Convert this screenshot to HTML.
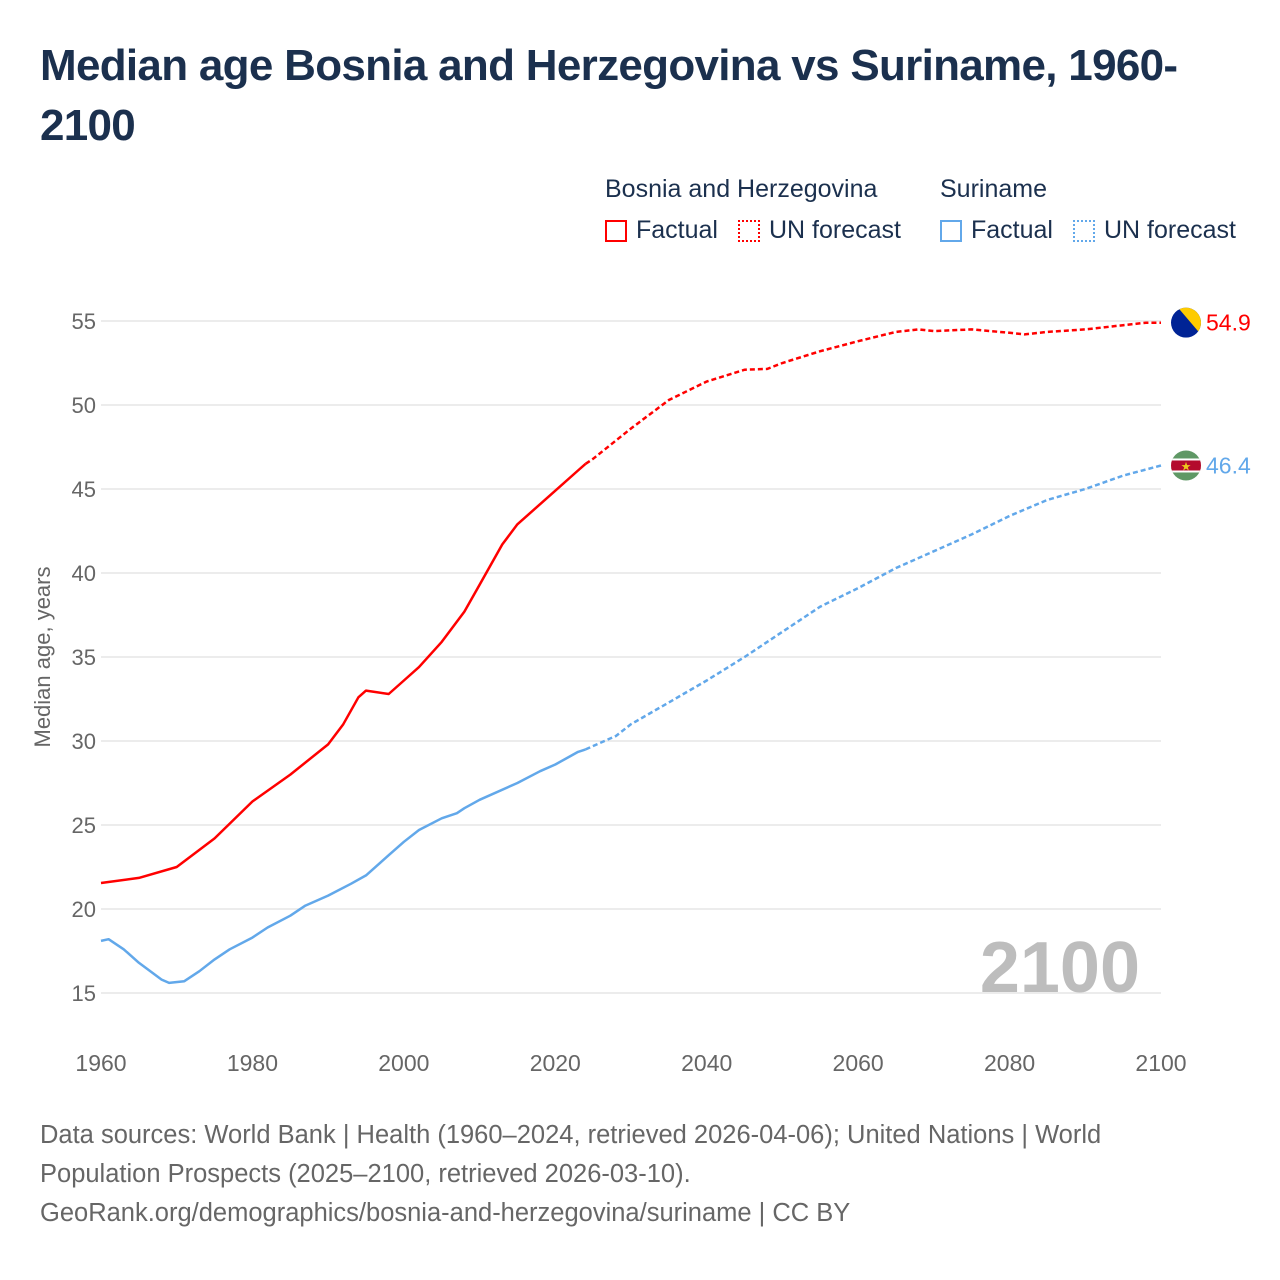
<!DOCTYPE html>
<html><head><meta charset="utf-8"><style>
body{margin:0;background:#fff;font-family:"Liberation Sans",sans-serif;}
#wrap{position:relative;width:1280px;height:1280px;overflow:hidden;}
h1{position:absolute;left:40px;top:36px;margin:0;font-size:44px;line-height:60px;color:#1b304e;font-weight:bold;width:1200px;letter-spacing:-0.7px}
.t{position:absolute;font-size:25px;color:#1b304e;white-space:nowrap}
.sw{position:absolute;width:22px;height:22px;box-sizing:border-box}
#src{position:absolute;left:40px;top:1116px;font-size:25.5px;line-height:39px;color:#666;white-space:nowrap}
</style></head><body>
<div id="wrap">
<h1>Median age Bosnia and Herzegovina vs Suriname, 1960-2100</h1>
<div class="t" style="left:605px;top:175px">Bosnia and Herzegovina</div>
<div class="t" style="left:940px;top:175px">Suriname</div>
<div class="sw" style="left:605px;top:220px;border:2px solid #f00"></div>
<div class="t" style="left:636px;top:216px">Factual</div>
<div class="sw" style="left:738px;top:220px;border:2px dotted #f00"></div>
<div class="t" style="left:769px;top:216px">UN forecast</div>
<div class="sw" style="left:940px;top:220px;border:2px solid #62a8ea"></div>
<div class="t" style="left:971px;top:216px">Factual</div>
<div class="sw" style="left:1073px;top:220px;border:2px dotted #62a8ea"></div>
<div class="t" style="left:1104px;top:216px">UN forecast</div>
<svg id="plot" width="1280" height="1280" style="position:absolute;left:0;top:0"></svg>
<div id="src">Data sources: World Bank | Health (1960–2024, retrieved 2026-04-06); United Nations | World<br>Population Prospects (2025–2100, retrieved 2026-03-10).<br>GeoRank.org/demographics/bosnia-and-herzegovina/suriname | CC BY</div>
</div>
<script>
const yTicks=[15,20,25,30,35,40,45,50,55];
const xTicks=[1960,1980,2000,2020,2040,2060,2080,2100];
const bihYears=[1960,1965,1970,1975,1980,1985,1990,1992,1994,1995,1998,2000,2002,2005,2008,2010,2013,2015,2020,2023,2024,2025,2030,2035,2040,2045,2048,2050,2055,2060,2065,2068,2070,2075,2080,2082,2085,2090,2095,2098,2100];
const bihVals=[21.55,21.85,22.5,24.2,26.4,28.0,29.8,31.0,32.6,33.0,32.8,33.6,34.4,35.9,37.7,39.3,41.7,42.9,44.9,46.1,46.5,46.8,48.6,50.3,51.4,52.1,52.15,52.5,53.2,53.8,54.35,54.5,54.4,54.5,54.3,54.2,54.35,54.5,54.75,54.9,54.9];
const surYears=[1960,1961,1963,1965,1968,1969,1971,1973,1975,1977,1980,1982,1985,1987,1990,1993,1995,1998,2000,2002,2005,2007,2008,2010,2015,2018,2020,2022,2023,2024,2025,2028,2030,2035,2040,2045,2050,2055,2060,2065,2070,2075,2080,2085,2090,2095,2100];
const surVals=[18.1,18.2,17.6,16.8,15.8,15.6,15.7,16.3,17.0,17.6,18.3,18.9,19.6,20.2,20.8,21.5,22.0,23.2,24.0,24.7,25.4,25.7,26.0,26.5,27.5,28.2,28.6,29.1,29.35,29.5,29.7,30.3,31.0,32.3,33.6,35.0,36.5,38.0,39.1,40.3,41.3,42.3,43.4,44.35,45.0,45.8,46.4];
const lastFactual=2024;
const X=y=>101+(y-1960)*(1060/140);
const Y=v=>321+(55-v)*16.8;
const svg=document.getElementById('plot');
const NS='http://www.w3.org/2000/svg';
function mk(t,a){const e=document.createElementNS(NS,t);for(const k in a)e.setAttribute(k,a[k]);svg.appendChild(e);return e;}
yTicks.forEach(v=>{
 const l=mk('line',{x1:101,x2:1161,y1:Y(v),y2:Y(v),stroke:'#e6e6e6','stroke-width':1.5});
 
 
 const t=mk('text',{x:96,y:Y(v)+8,'text-anchor':'end','font-size':22,fill:'#666','font-family':'Liberation Sans'});
 t.textContent=v;
 
 
});
xTicks.forEach(v=>{
 const t=mk('text',{x:X(v),y:1071,'text-anchor':'middle','font-size':23,fill:'#666','font-family':'Liberation Sans'});
 t.textContent=v;
 
 
});
const yt=mk('text',{x:0,y:0,transform:'translate(50,657) rotate(-90)','text-anchor':'middle','font-size':22,fill:'#666','font-family':'Liberation Sans'});
yt.textContent='Median age, years';


const yr=mk('text',{x:1140,y:992,'text-anchor':'end','font-size':72,'font-weight':'bold',fill:'#bdbdbd','font-family':'Liberation Sans'});
yr.textContent='2100';


function series(ys,vs,col,name){
 const f=[],g=[];
 ys.forEach((y,i)=>{const p=X(y).toFixed(1)+','+Y(vs[i]).toFixed(1);if(y<=lastFactual)f.push(p);if(y>=lastFactual)g.push(p);});
 const a=mk('polyline',{points:f.join(' '),fill:'none',stroke:col,'stroke-width':2.5,'stroke-linejoin':'round'});
 
 
 const b=mk('polyline',{points:g.join(' '),fill:'none',stroke:col,'stroke-width':2.5,'stroke-dasharray':'5,3'});
 
 
}
series(bihYears,bihVals,'#ff0000','bosnia');
series(surYears,surVals,'#62a8ea','suriname');
const bY=Y(bihVals[bihVals.length-1]),sY=Y(surVals[surVals.length-1]);
const defs=mk('defs',{});
defs.innerHTML='<clipPath id="c1"><circle cx="1186" cy="'+bY+'" r="15"/></clipPath><clipPath id="c2"><circle cx="1186" cy="'+sY+'" r="15"/></clipPath>';
const f1=mk('g',{'clip-path':'url(#c1)'});


f1.innerHTML='<rect x="1171" y="'+(bY-15)+'" width="30" height="30" fill="#002395"/><polygon points="1178,'+(bY-15)+' 1201,'+(bY-15)+' 1201,'+(bY+12)+'" fill="#fecb00"/>';
const f2=mk('g',{'clip-path':'url(#c2)'});


f2.innerHTML='<rect x="1171" y="'+(sY-15)+'" width="30" height="30" fill="#377e3f" opacity="0.8"/><rect x="1171" y="'+(sY-7)+'" width="30" height="14" fill="#fff"/><rect x="1171" y="'+(sY-5)+'" width="30" height="10" fill="#b40a2d"/><text x="1186" y="'+(sY+5)+'" text-anchor="middle" font-size="12" fill="#ecc81d">★</text>';
const l1=mk('text',{x:1206,y:bY+8,'font-size':23,fill:'#ff0000','font-family':'Liberation Sans'});
l1.textContent=bihVals[bihVals.length-1].toFixed(1);


const l2=mk('text',{x:1206,y:sY+8,'font-size':23,fill:'#62a8ea','font-family':'Liberation Sans'});
l2.textContent=surVals[surVals.length-1].toFixed(1);


</script>
</body></html>
